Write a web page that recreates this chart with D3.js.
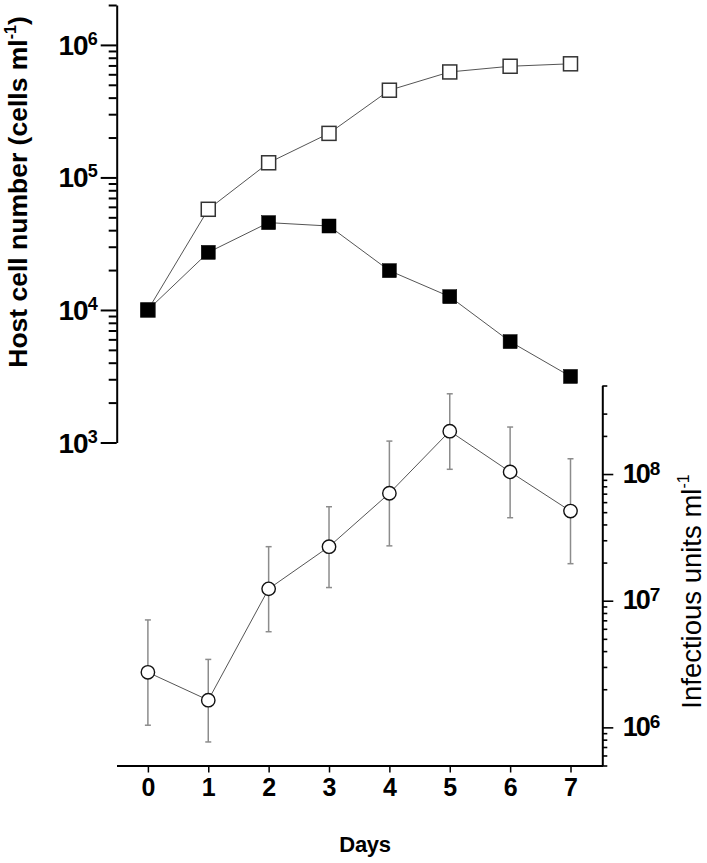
<!DOCTYPE html>
<html><head><meta charset="utf-8">
<script src="https://cdn.jsdelivr.net/npm/d3@7"></script>
<style>
body{margin:0;background:#fff}
svg{display:block}
text{font-family:"Liberation Sans",Arial,Helvetica,sans-serif;fill:#000}
</style>
</head><body>
<svg id="chart" width="707" height="863"></svg>
<script>
// ---- data ----
const days = [0, 1, 2, 3, 4, 5, 6, 7];
const dayLabels = ["0", "1", "2", "3", "4", "5", "6", "7"];
const hostControl = [1.0e4, 5.75e4, 1.29e5, 2.15e5, 4.55e5, 6.25e5, 6.9e5, 7.2e5];
const hostInfected = [1.0e4, 2.72e4, 4.56e4, 4.3e4, 1.98e4, 1.26e4, 5.77e3, 3.15e3];
const infUnits = [2.72e6, 1.64e6, 1.24e7, 2.67e7, 7.05e7, 2.18e8, 1.04e8, 5.1e7];
const infLow   = [1.04e6, 7.67e5, 5.69e6, 1.27e7, 2.71e7, 1.09e8, 4.52e7, 1.96e7];
const infHigh  = [7.05e6, 3.44e6, 2.67e7, 5.52e7, 1.82e8, 4.3e8, 2.35e8, 1.32e8];
const leftMajor = [1e3, 1e4, 1e5, 1e6];
const leftMinorMult = [2, 3, 4, 5, 6, 7, 8, 9];
const leftMinorDecades = [1e3, 1e4, 1e5];
const leftMinorExtra = [2e6];
const rightMajor = [1e6, 1e7, 1e8];
const rightMinor = [5e5, 6e5, 7e5, 8e5, 9e5,
  2e6, 3e6, 4e6, 5e6, 6e6, 7e6, 8e6, 9e6,
  2e7, 3e7, 4e7, 5e7, 6e7, 7e7, 8e7, 9e7,
  2e8, 3e8, 5e8];
const xTitle = "Days";
const yLeftTitle = ["Host cell number (cells ml", "-1", ")"];
const yRightTitle = ["Infectious units ml", "-1"];

const leftMinor = leftMinorDecades.flatMap(dec => leftMinorMult.map(m => m * dec)).concat(leftMinorExtra);

// ---- scales ----
const svg = d3.select("#chart");
const x = d3.scaleLinear().domain([-0.52, 7.53]).range([116.5, 602.5]);
const yL = d3.scaleLog().domain([1e3, 2e6]).range([442.5, 5]);
const yR = d3.scaleLog().domain([5e5, 5e8]).range([765.5, 385.5]);

// ---- x axis ----
const gx = svg.append("g").attr("transform", "translate(0,765.5)")
  .call(d3.axisBottom(x).tickValues(days).tickSize(7).tickSizeOuter(0)
    .tickFormat((d, i) => dayLabels[i]));
gx.select(".domain").attr("stroke", "#000").attr("stroke-width", 2);
gx.selectAll(".tick line").attr("stroke", "#000").attr("stroke-width", 1.5);
gx.selectAll(".tick text").attr("y", 30).attr("dy", 0)
  .attr("font-size", 25).attr("font-weight", "bold")
  .attr("font-family", "'Liberation Sans',Arial,sans-serif").attr("fill", "#000");

svg.append("text").attr("x", 365).attr("y", 851.5).attr("text-anchor", "middle")
  .attr("font-size", 22).attr("font-weight", "bold").attr("letter-spacing", -0.3).text(xTitle);

// ---- left axis ----
const gl = svg.append("g").attr("transform", "translate(116.7,0)");
const glMinor = gl.append("g").call(d3.axisLeft(yL).tickValues(leftMinor).tickSize(8).tickFormat(""));
glMinor.select(".domain").remove();
glMinor.selectAll(".tick line").attr("stroke", "#000").attr("stroke-width", 2);
const glMajor = gl.append("g").call(d3.axisLeft(yL).tickValues(leftMajor).tickSize(16).tickSizeOuter(0).tickFormat(""));
glMajor.select(".domain").attr("stroke", "#000").attr("stroke-width", 2);
glMajor.selectAll(".tick line").attr("stroke", "#000").attr("stroke-width", 2);
glMajor.selectAll(".tick text").remove();
glMajor.selectAll(".tick").each(function(d) {
  const t = d3.select(this).append("text").attr("x", -19).attr("y", 9.5)
    .attr("text-anchor", "end").attr("font-weight", "bold").attr("fill", "#000")
    .attr("font-family", "'Liberation Sans',Arial,sans-serif");
  t.append("tspan").attr("font-size", 28).attr("letter-spacing", -1).text("10");
  t.append("tspan").attr("font-size", 18).attr("dy", -10).text(Math.round(Math.log10(d)));
});

svg.append("text").attr("transform", "translate(27,192) rotate(-90)")
  .attr("text-anchor", "middle").attr("font-size", 26.5).attr("font-weight", "bold")
  .call(t => {
    t.append("tspan").text(yLeftTitle[0]);
    t.append("tspan").attr("font-size", 16).attr("dy", -11).text(yLeftTitle[1]);
    t.append("tspan").attr("dy", 11).text(yLeftTitle[2]);
  });

// ---- right axis ----
const gr = svg.append("g").attr("transform", "translate(602.3,0)");
const grMinor = gr.append("g").call(d3.axisRight(yR).tickValues(rightMinor).tickSize(5).tickFormat(""));
grMinor.select(".domain").remove();
grMinor.selectAll(".tick line").attr("stroke", "#000").attr("stroke-width", 1.6);
const grMajor = gr.append("g").call(d3.axisRight(yR).tickValues(rightMajor).tickSize(11).tickSizeOuter(0).tickFormat(""));
grMajor.select(".domain").attr("stroke", "#000").attr("stroke-width", 2);
grMajor.selectAll(".tick line").attr("stroke", "#000").attr("stroke-width", 1.6);
grMajor.selectAll(".tick text").remove();
grMajor.selectAll(".tick").each(function(d) {
  const t = d3.select(this).append("text").attr("x", 20.5).attr("y", 8)
    .attr("text-anchor", "start").attr("font-weight", "bold").attr("fill", "#000")
    .attr("font-family", "'Liberation Sans',Arial,sans-serif");
  t.append("tspan").attr("font-size", 27).attr("letter-spacing", -2).text("10");
  t.append("tspan").attr("font-size", 19).attr("dx", 1).attr("dy", -8).text(Math.round(Math.log10(d)));
});

svg.append("text").attr("transform", "translate(700.5,591.5) rotate(-90)")
  .attr("text-anchor", "middle").attr("font-size", 27.5)
  .call(t => {
    t.append("tspan").text(yRightTitle[0]);
    t.append("tspan").attr("font-size", 16).attr("dy", -12).text(yRightTitle[1]);
  });

// ---- host cell series ----
const lineCtrl = d3.line().x((d, i) => x(days[i])).y(d => yL(d));
svg.append("path").datum(hostControl).attr("d", lineCtrl)
  .attr("fill", "none").attr("stroke", "#555").attr("stroke-width", 1);
svg.append("path").datum(hostInfected).attr("d", lineCtrl)
  .attr("fill", "none").attr("stroke", "#555").attr("stroke-width", 1);

const sq = 14;
svg.append("g").selectAll("rect").data(hostControl).join("rect")
  .attr("x", (d, i) => x(days[i]) - sq / 2).attr("y", d => yL(d) - sq / 2)
  .attr("width", sq).attr("height", sq)
  .attr("fill", "#fff").attr("stroke", "#333").attr("stroke-width", 1.5);
svg.append("g").selectAll("rect").data(hostInfected).join("rect")
  .attr("x", (d, i) => x(days[i]) - sq / 2).attr("y", d => yL(d) - sq / 2)
  .attr("width", sq).attr("height", sq)
  .attr("fill", "#000").attr("stroke", "#000").attr("stroke-width", 0.5);

// ---- infectious units series ----
const eb = svg.append("g").attr("stroke", "#8c8c8c").attr("stroke-width", 1.5);
days.forEach((dd, i) => {
  const cx = x(dd);
  eb.append("line").attr("x1", cx).attr("x2", cx).attr("y1", yR(infLow[i])).attr("y2", yR(infHigh[i]));
  eb.append("line").attr("x1", cx - 3).attr("x2", cx + 3).attr("y1", yR(infLow[i])).attr("y2", yR(infLow[i]));
  eb.append("line").attr("x1", cx - 3).attr("x2", cx + 3).attr("y1", yR(infHigh[i])).attr("y2", yR(infHigh[i]));
});
const lineInf = d3.line().x((d, i) => x(days[i])).y(d => yR(d));
svg.append("path").datum(infUnits).attr("d", lineInf)
  .attr("fill", "none").attr("stroke", "#555").attr("stroke-width", 1);
svg.append("g").selectAll("circle").data(infUnits).join("circle")
  .attr("cx", (d, i) => x(days[i])).attr("cy", d => yR(d)).attr("r", 6.7)
  .attr("fill", "#fff").attr("stroke", "#111").attr("stroke-width", 1.4);
</script>
</body></html>
